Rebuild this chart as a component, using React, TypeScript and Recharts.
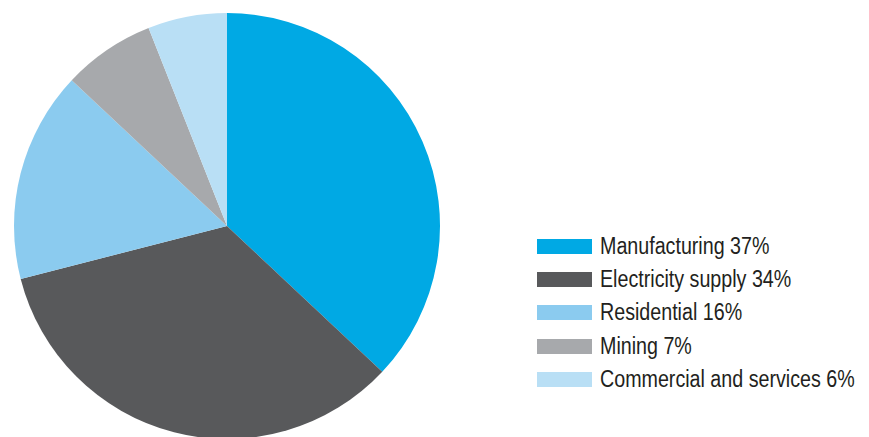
import { PieChart, Pie, Cell, Legend } from 'recharts';

const sectors = ['Manufacturing', 'Electricity supply', 'Residential', 'Mining', 'Commercial and services'];
const shares = [37, 34, 16, 7, 6];
const colors = ['#00a9e4', '#58595b', '#8bcbef', '#a7a9ac', '#b9dff5'];

const data = sectors.map((name, i) => ({ name, value: shares[i] }));

// narrow font isn't available, so squeeze Liberation Sans horizontally
const LegendList = () => (
    <div style={{ display: 'flex', flexDirection: 'column' }}>
        {data.map((d, i) => (
            <div key={d.name} style={{ display: 'flex', alignItems: 'center', height: 33.2 }}>
                <div style={{ flexShrink: 0, width: 55, height: 15, background: colors[i], marginRight: 8 }} />
                <span
                    style={{
                        display: 'inline-block',
                        transform: 'scaleX(0.855)',
                        transformOrigin: 'left center',
                        fontFamily: '"Liberation Sans", Arial, sans-serif',
                        fontSize: 23,
                        color: '#231f20',
                        whiteSpace: 'nowrap',
                        lineHeight: 1,
                    }}
                >
                    {d.name} {d.value}%
                </span>
            </div>
        ))}
    </div>
);

export default function App() {
    return (
        <div style={{ position: 'absolute', left: 0, top: 0, width: 869, height: 437, background: '#fff' }}>
            <PieChart width={869} height={437} margin={{ top: 0, right: 0, bottom: 0, left: 0 }}>
                <Pie
                    data={data}
                    dataKey="value"
                    nameKey="name"
                    cx={227}
                    cy={226}
                    outerRadius={213}
                    startAngle={90}
                    endAngle={-270}
                    stroke="none"
                    isAnimationActive={false}
                >
                    {data.map((d, i) => (
                        <Cell key={d.name} fill={colors[i]} />
                    ))}
                </Pie>
                <Legend
                    layout="vertical"
                    content={<LegendList />}
                    wrapperStyle={{ position: 'absolute', left: 537, top: 230, width: 330 }}
                />
            </PieChart>
        </div>
    );
}
